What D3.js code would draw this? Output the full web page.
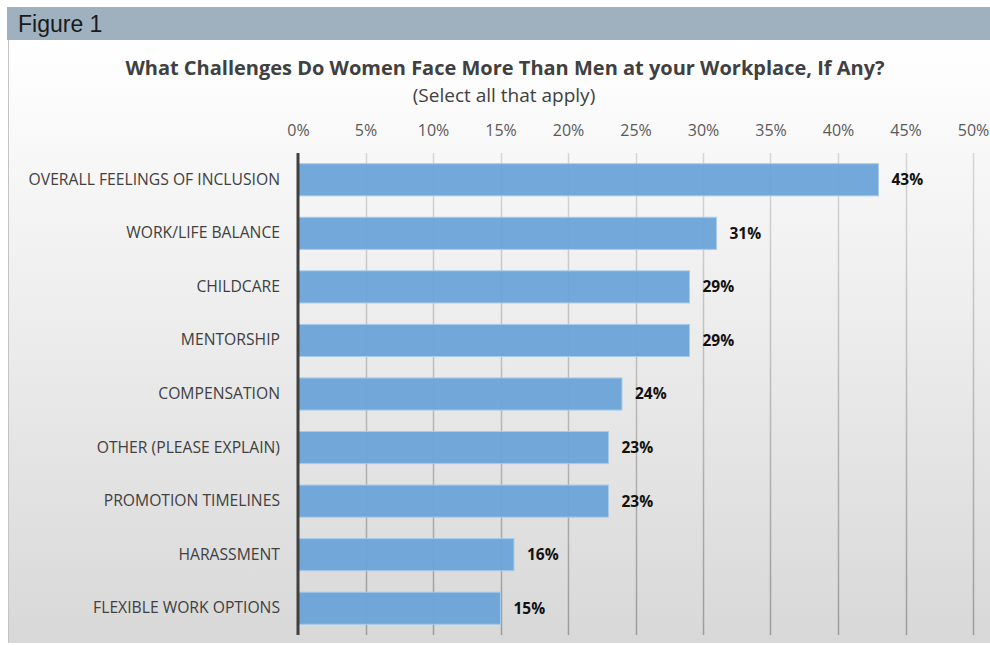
<!DOCTYPE html>
<html lang="en">
<head>
  <meta charset="utf-8">
  <title>Figure 1</title>
  <style>
    html, body { margin: 0; padding: 0; background: #fff; }
    svg { display: block; }
  </style>
</head>
<body>
  <script src="https://cdnjs.cloudflare.com/ajax/libs/d3/7.8.5/d3.min.js"></script>
  <script>
  const categories = [
    "OVERALL FEELINGS OF INCLUSION",
    "WORK/LIFE BALANCE",
    "CHILDCARE",
    "MENTORSHIP",
    "COMPENSATION",
    "OTHER (PLEASE EXPLAIN)",
    "PROMOTION TIMELINES",
    "HARASSMENT",
    "FLEXIBLE WORK OPTIONS"
  ];
  const values = [43, 31, 29, 29, 24, 23, 23, 16, 15];
  const tickValues = [0, 5, 10, 15, 20, 25, 30, 35, 40, 45, 50];

  const W = 990, H = 645;
  const plot = { left: 298, right: 973, top: 153, bottom: 635 };

  const svg = d3.select("body").append("svg")
    .attr("width", W)
    .attr("height", H);

  const defs = svg.append("defs");
  const bg = defs.append("linearGradient")
    .attr("id", "bg").attr("x1", 0).attr("y1", 0).attr("x2", 0).attr("y2", 1);
  bg.append("stop").attr("offset", "0%").attr("stop-color", "#ffffff");
  bg.append("stop").attr("offset", "100%").attr("stop-color", "#d8d8d8");

  const gridGrad = defs.append("linearGradient")
    .attr("id", "gridGrad").attr("gradientUnits", "userSpaceOnUse")
    .attr("x1", 0).attr("y1", plot.top).attr("x2", 0).attr("y2", plot.bottom);
  gridGrad.append("stop").attr("offset", "0%").attr("stop-color", "#d6d6d6");
  gridGrad.append("stop").attr("offset", "100%").attr("stop-color", "#9c9c9c");

  // panel background
  svg.append("rect")
    .attr("x", 8).attr("y", 40).attr("width", W - 8).attr("height", 603)
    .attr("fill", "url(#bg)");
  svg.append("line")
    .attr("x1", 8.5).attr("x2", 8.5).attr("y1", 40).attr("y2", 643)
    .attr("stroke", "#c4c4c4").attr("stroke-width", 1);

  // header band
  svg.append("rect")
    .attr("x", 7).attr("y", 7).attr("width", W - 7).attr("height", 33)
    .attr("fill", "#9fb1bf");
  svg.append("text")
    .attr("x", 18).attr("y", 32)
    .attr("font-family", "Liberation Sans, Arial, sans-serif")
    .attr("font-size", 23)
    .attr("fill", "#1a1a1a")
    .text("Figure 1");

  // titles
  svg.append("text")
    .attr("x", 505).attr("y", 75)
    .attr("text-anchor", "middle")
    .attr("font-family", "Open Sans, sans-serif")
    .attr("font-weight", "bold")
    .attr("font-size", 20)
    .attr("fill", "#404040")
    .text("What Challenges Do Women Face More Than Men at your Workplace, If Any?");
  svg.append("text")
    .attr("x", 504).attr("y", 102)
    .attr("text-anchor", "middle")
    .attr("font-family", "Open Sans, sans-serif")
    .attr("font-size", 19)
    .attr("fill", "#404040")
    .text("(Select all that apply)");

  const x = d3.scaleLinear().domain([0, 50]).range([plot.left, plot.right]);
  const y = d3.scaleBand().domain(categories)
    .range([plot.top, plot.bottom])
    .paddingInner(0.4).paddingOuter(0.2);

  // gridlines
  svg.append("g")
    .selectAll("line")
    .data(tickValues.slice(1))
    .join("line")
    .attr("x1", d => Math.round(x(d)) + 0.5)
    .attr("x2", d => Math.round(x(d)) + 0.5)
    .attr("y1", plot.top)
    .attr("y2", plot.bottom)
    .attr("stroke", "url(#gridGrad)")
    .attr("stroke-width", 1.5);

  // top axis labels
  const xAxis = d3.axisTop(x)
    .tickValues(tickValues)
    .tickFormat(d => d + "%")
    .tickSize(0)
    .tickPadding(0);
  const axG = svg.append("g")
    .attr("transform", "translate(0,136)")
    .call(xAxis);
  axG.select(".domain").remove();
  axG.selectAll("text")
    .attr("font-family", "Open Sans, sans-serif")
    .attr("font-size", 16)
    .attr("fill", "#595959");

  // bars
  svg.append("g")
    .selectAll("rect")
    .data(values)
    .join("rect")
    .attr("x", x(0))
    .attr("y", (d, i) => y(categories[i]))
    .attr("width", d => x(d) - x(0))
    .attr("height", y.bandwidth())
    .attr("fill", "#6ba3d8")
    .attr("fill-opacity", 0.95)
    .attr("stroke", "#a9cbea")
    .attr("stroke-width", 1);

  // value labels
  svg.append("g")
    .selectAll("text")
    .data(values)
    .join("text")
    .attr("x", d => x(d) + 13)
    .attr("y", (d, i) => y(categories[i]) + y.bandwidth() / 2)
    .attr("dy", "0.35em")
    .attr("font-family", "Open Sans, sans-serif")
    .attr("font-weight", "bold")
    .attr("font-size", 15.5)
    .attr("fill", "#111")
    .text(d => d + "%");

  // category labels
  const yAxis = d3.axisLeft(y).tickSize(0).tickPadding(18);
  const yG = svg.append("g")
    .attr("transform", `translate(${plot.left},0)`)
    .call(yAxis);
  yG.select(".domain").remove();
  yG.selectAll("text")
    .attr("font-family", "Open Sans, sans-serif")
    .attr("font-size", 15.7)
    .attr("fill", "#404040");

  // vertical axis line
  svg.append("line")
    .attr("x1", x(0)).attr("x2", x(0))
    .attr("y1", plot.top).attr("y2", plot.bottom)
    .attr("stroke", "#404040")
    .attr("stroke-width", 3);
  </script>
</body>
</html>
